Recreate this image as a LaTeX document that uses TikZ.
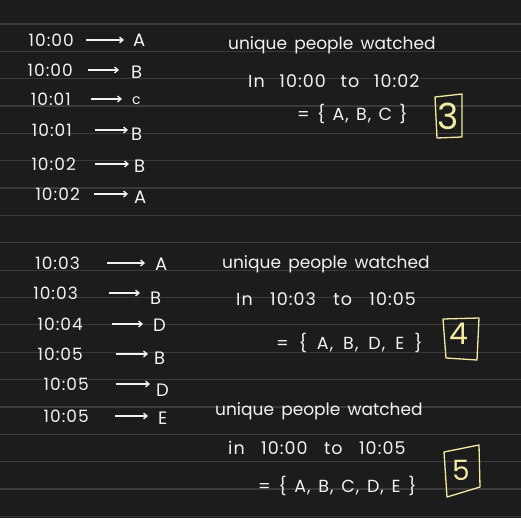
\documentclass[tikz,border=0pt]{standalone}
\usepackage{fontspec}
\setmainfont{Poppins}
\newfontfamily\handA{Poppins}[WordSpace=1.6]
\newfontfamily\handB{Poppins}[LetterSpace=6]
\newfontfamily\handT{Poppins}[LetterSpace=6]
\newcommand\myspace[1]{\spaceskip=#1\relax}
\usetikzlibrary{arrows.meta}
\definecolor{bgc}{HTML}{1C1C1C}
\definecolor{rulec}{HTML}{3A3A3A}
\definecolor{inkc}{HTML}{F2F2F2}
\definecolor{yelc}{HTML}{F0EBA0}
\tikzset{
  tm/.style={anchor=east,inner sep=0pt,text=inkc,font=\handT\fontsize{17}{17}\selectfont},
  lt/.style={anchor=west,inner sep=0pt,text=inkc,font=\fontsize{18}{18}\selectfont},
  rt/.style={anchor=base west,inner sep=0pt,text=inkc,font=\handA\fontsize{17}{17}\selectfont},
  rtb/.style={anchor=base west,inner sep=0pt,text=inkc,font=\handB\fontsize{17.5}{17.5}\selectfont},
  arr/.style={draw=inkc,line width=1.3pt,-{Straight Barb[length=3.5pt,width=6pt]}},
  ybox/.style={draw=yelc,line width=1.3pt,line join=round},
  ynum/.style={text=yelc,inner sep=0pt}
}
\begin{document}
\begin{tikzpicture}[x=1pt,y=-1pt]
\fill[bgc] (0,0) rectangle (521,518);
\useasboundingbox (0,0) rectangle (521,518);
\foreach \k in {0,...,18}{
  \draw[rulec,line width=1.2pt] (0,24+27.35*\k) -- (521,24+27.35*\k);
}
% block 1
\node[tm] (t1) at (74,40) {10:00};
\node[lt] (l1) at (133,40) {A};
\node[tm] (t2) at (73,70) {10:00};
\node[lt] (l2) at (131,72) {B};
\node[tm] (t3) at (71,99) {10:01};
\node[lt,font=\fontsize{14}{14}\selectfont] (l3) at (132,101) {c};
\node[tm] (t4) at (72,130) {10:01};
\node[lt] (l4) at (131,134) {B};
\node[tm] (t5) at (76,164) {10:02};
\node[lt] (l5) at (134,166) {B};
\node[tm] (t6) at (80,194) {10:02};
\node[lt] (l6) at (134,197) {A};
\draw[arr,shorten <=12pt,shorten >=9pt] (t1.east) -- (t1.east -| l1.west);
\draw[arr,shorten <=15pt,shorten >=12pt] (t2.east) -- (t2.east -| l2.west);
\draw[arr,shorten <=20pt,shorten >=10pt] (t3.east) -- (t3.east -| l3.west);
\draw[arr,shorten <=23pt,shorten >=3pt] (t4.east) -- (t4.east -| l4.west);
\draw[arr,shorten <=19pt,shorten >=5pt] (t5.east) -- (t5.east -| l5.west);
\draw[arr,shorten <=14pt,shorten >=6pt] (t6.east) -- (t6.east -| l6.west);
% block 2
\node[tm] (t7) at (80,263) {10:03};
\node[lt] (l7) at (155,264) {A};
\node[tm] (t8) at (78,293) {10:03};
\node[lt] (l8) at (150,298) {B};
\node[tm] (t9) at (83,324) {10:04};
\node[lt] (l9) at (153,325) {D};
\node[tm] (t10) at (83,354) {10:05};
\node[lt] (l10) at (154,358) {B};
\node[tm] (t11) at (89,384) {10:05};
\node[lt] (l11) at (156,390) {D};
\node[tm] (t12) at (89,416) {10:05};
\node[lt] (l12) at (158,418) {E};
\draw[arr,shorten <=27pt,shorten >=10pt] (t7.east) -- (t7.east -| l7.west);
\draw[arr,shorten <=31pt,shorten >=10pt] (t8.east) -- (t8.east -| l8.west);
\draw[arr,shorten <=29pt,shorten >=10pt] (t9.east) -- (t9.east -| l9.west);
\draw[arr,shorten <=33pt,shorten >=6pt] (t10.east) -- (t10.east -| l10.west);
\draw[arr,shorten <=27pt,shorten >=6pt] (t11.east) -- (t11.east -| l11.west);
\draw[arr,shorten <=26pt,shorten >=10pt] (t12.east) -- (t12.east -| l12.west);
% right texts
\node[rt] (u1) at (228,50) {unique people watched};
\node[rtb] (i1) at (248,88) {\myspace{14.7pt}In 10:00 to 10:02};
\node[rtb] (s1) at (297,121) {\myspace{7.3pt}= \{ A, B, C \}};
\node[rt] (u2) at (222,268) {unique people watched};
\node[rtb] (i2) at (236,305) {\myspace{17.4pt}In 10:03 to 10:05};
\node[rtb] (s2) at (276,349) {\myspace{10pt}= \{ A, B, D, E \}};
\node[rt] (u3) at (215,415) {unique people watched};
\node[rtb] (i3) at (228,454) {\myspace{16.4pt}in 10:00 to 10:05};
\node[rtb] (s3) at (258,492) {\myspace{7.7pt}= \{ A, B, C, D, E \}};
% boxed counts
\draw[ybox] (435,97) -- (462,94) -- (462,137) -- (437,138) -- cycle;
\node[ynum,font=\fontsize{36}{36}\selectfont] (n3) at (448,116) {3};
\draw[ybox] (443,319) -- (479,318) -- (477,360) -- (446,358) -- cycle;
\node[ynum,font=\fontsize{30}{30}\selectfont] (n4) at (459,334) {4};
\draw[ybox] (444,452) -- (479,445) -- (480,487) -- (447,497) -- cycle;
\node[ynum,font=\fontsize{28}{28}\selectfont] (n5) at (461,470) {5};
\end{tikzpicture}
\end{document}
